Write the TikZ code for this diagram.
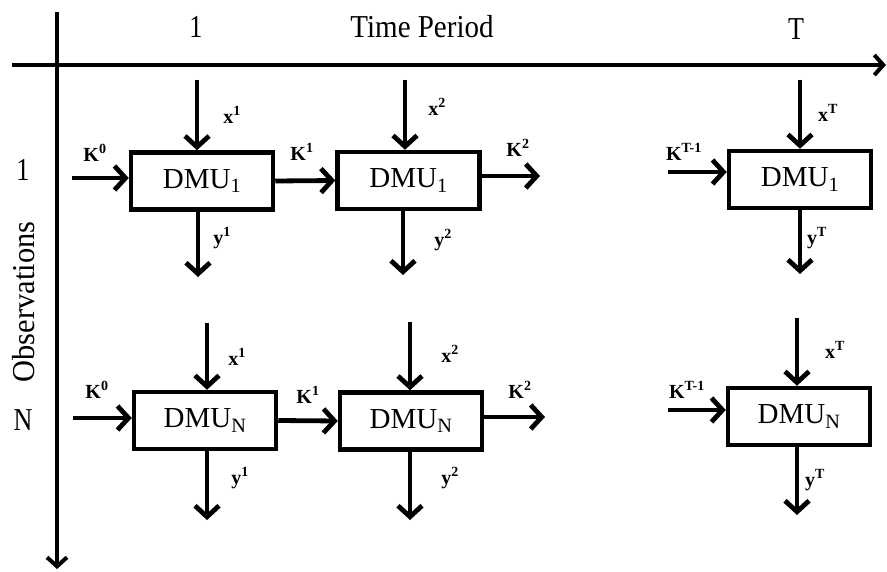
\documentclass[tikz,border=0pt]{standalone}
\usepackage{fontspec}
\setmainfont{Liberation Serif}
\usetikzlibrary{arrows.meta}
\begin{document}
\begin{tikzpicture}[x=1pt,y=-1pt,
  arr/.style={line width=4.8pt,-{Straight Barb[length=11pt,width=24pt]}},
  axis/.style={line width=4pt,-{Straight Barb[length=9pt,width=20pt]}},
  dmu/.style={draw,line width=4.5pt,minimum width=142pt,minimum height=57pt,inner sep=0pt,font=\fontsize{29}{31}\selectfont},
  lab/.style={font=\fontsize{20}{22}\selectfont\bfseries,inner sep=0pt},
  big/.style={font=\fontsize{29}{32}\selectfont,inner sep=0pt}]
\useasboundingbox (0,0) rectangle (887,572);
% axes
\coordinate (hs) at (12,65);
\coordinate (he) at (886,65);
\coordinate (vs) at (57,12);
\coordinate (ve) at (57,569);
\draw[axis] (hs) -- (he);
\draw[axis] (vs) -- (ve);
\node[big] (t1) at (196,27) {\scalebox{0.9}[1.1]{1}};
\node[big] (tp) at (422,27) {\scalebox{1.0}[1.1]{Time Period}};
\node[big] (tT) at (796,29) {\scalebox{0.9}[1.1]{T}};
\node[big] (o1) at (23,170) {\scalebox{0.9}[1.1]{1}};
\node[big] (oN) at (23,420) {\scalebox{0.9}[1.1]{N}};
\node[big,rotate=90] (obs) at (24,302) {\scalebox{1.05}[1.1]{Observations}};
% row 1 boxes
\node[dmu] (a1) at (202,181) {DMU\textsubscript{1}};
\node[dmu] (a2) at (408.5,180.5) {DMU\textsubscript{1}};
\node[dmu] (a3) at (800,179.5) {DMU\textsubscript{1}};
% row 2 boxes
\node[dmu] (b1) at (205,420.5) {DMU\textsubscript{N}};
\node[dmu] (b2) at (411,421) {DMU\textsubscript{N}};
\node[dmu] (b3) at (799,416.5) {DMU\textsubscript{N}};
% row 1 arrows
\coordinate (ax1) at (197,80);
\coordinate (ay1) at (198,277);
\coordinate (ak0) at (72,178);
\coordinate (ax2) at (405,80);
\coordinate (ay2) at (403,275);
\coordinate (ak2) at (540,176);
\coordinate (axT) at (800,80);
\coordinate (ayT) at (800,274);
\coordinate (akT) at (668,172);
\draw[arr] (ax1) -- (ax1 |- a1.north);
\draw[arr] (ay1 |- a1.south) -- (ay1);
\draw[arr] (ak0) -- (ak0 -| a1.west);
\draw[arr] (a1.east) -- (a2.west);
\draw[arr] (ax2) -- (ax2 |- a2.north);
\draw[arr] (ay2 |- a2.south) -- (ay2);
\draw[arr] (ak2 -| a2.east) -- (ak2);
\draw[arr] (axT) -- (axT |- a3.north);
\draw[arr] (ayT |- a3.south) -- (ayT);
\draw[arr] (akT) -- (akT -| a3.west);
% row 2 arrows
\coordinate (bx1) at (207,323);
\coordinate (by1) at (207,520);
\coordinate (bk0) at (73,418);
\coordinate (bx2) at (410,322);
\coordinate (by2) at (410,520);
\coordinate (bk2) at (545,417);
\coordinate (bxT) at (797,318);
\coordinate (byT) at (797,515);
\coordinate (bkT) at (668,410);
\draw[arr] (bx1) -- (bx1 |- b1.north);
\draw[arr] (by1 |- b1.south) -- (by1);
\draw[arr] (bk0) -- (bk0 -| b1.west);
\draw[arr] (b1.east) -- (b2.west);
\draw[arr] (bx2) -- (bx2 |- b2.north);
\draw[arr] (by2 |- b2.south) -- (by2);
\draw[arr] (bk2 -| b2.east) -- (bk2);
\draw[arr] (bxT) -- (bxT |- b3.north);
\draw[arr] (byT |- b3.south) -- (byT);
\draw[arr] (bkT) -- (bkT -| b3.west);
% row 1 labels
\node[lab] (lx1) at (232,115) {x\textsuperscript{1}};
\node[lab] (lk0) at (95,153) {K\textsuperscript{0}};
\node[lab] (lk1) at (302,152) {K\textsuperscript{1}};
\node[lab] (ly1) at (222,238) {y\textsuperscript{1}};
\node[lab] (lx2) at (437,107) {x\textsuperscript{2}};
\node[lab] (lk2) at (518,148) {K\textsuperscript{2}};
\node[lab] (ly2) at (443,240) {y\textsuperscript{2}};
\node[lab] (lxT) at (828,113) {x\textsuperscript{T}};
\node[lab] (lkT) at (684,152) {K\textsuperscript{T-1}};
\node[lab] (lyT) at (817,238) {y\textsuperscript{T}};
% row 2 labels
\node[lab] (mx1) at (237,357) {x\textsuperscript{1}};
\node[lab] (mk0) at (97,390) {K\textsuperscript{0}};
\node[lab] (mk1) at (308,395) {K\textsuperscript{1}};
\node[lab] (my1) at (240,478) {y\textsuperscript{1}};
\node[lab] (mx2) at (450,354) {x\textsuperscript{2}};
\node[lab] (mk2) at (520,390) {K\textsuperscript{2}};
\node[lab] (my2) at (450,478) {y\textsuperscript{2}};
\node[lab] (mxT) at (835,350) {x\textsuperscript{T}};
\node[lab] (mkT) at (687,390) {K\textsuperscript{T-1}};
\node[lab] (myT) at (815,480) {y\textsuperscript{T}};
\end{tikzpicture}
\end{document}
